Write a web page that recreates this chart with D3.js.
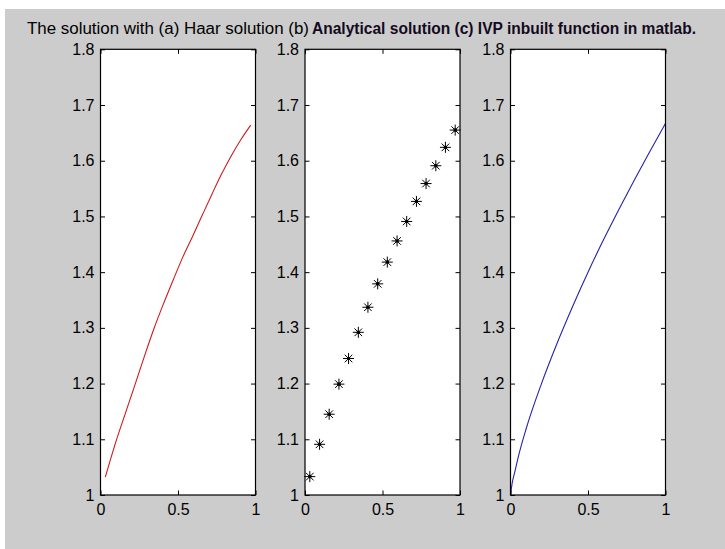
<!DOCTYPE html>
<html>
<head>
<meta charset="utf-8">
<script src="https://cdn.jsdelivr.net/npm/d3@7"></script>
<style>
  body { margin: 0; background: #ffffff; }
  svg text { font-family: "Liberation Sans", Arial, sans-serif; fill: #000; }
</style>
</head>
<body>
<svg class="chart"></svg>
<script>
// collocation points used for haar and analytical panels
var collX = [0.031, 0.094, 0.156, 0.219, 0.281, 0.344, 0.406, 0.469, 0.531, 0.594, 0.656, 0.719, 0.781, 0.844, 0.906, 0.969];
var haarY = [1.032, 1.091, 1.143, 1.195, 1.247, 1.298, 1.343, 1.386, 1.427, 1.464, 1.502, 1.540, 1.576, 1.609, 1.638, 1.664];
var exactY = [1.033, 1.091, 1.145, 1.199, 1.245, 1.292, 1.337, 1.379, 1.418, 1.456, 1.491, 1.527, 1.559, 1.591, 1.624, 1.655];
var ivpX = [0, 0.01, 0.029, 0.05, 0.1, 0.2, 0.3, 0.4, 0.5, 0.6, 0.7, 0.8, 0.9, 1.0];
var ivpY = [1.0, 1.02, 1.043, 1.068, 1.118, 1.200, 1.272, 1.338, 1.400, 1.458, 1.513, 1.566, 1.617, 1.667];
var yTicks = [1, 1.1, 1.2, 1.3, 1.4, 1.5, 1.6, 1.7, 1.8];
var xTicks = [0, 0.5, 1];
var titleA = "The solution with (a) Haar solution (b) ";
var titleB = "Analytical solution (c) IVP inbuilt function in matlab.";

var W = 725, H = 549;
var top_ = 49.3, bottom = 495;
var panelLeft = [100.5, 305, 510.5];
var panelW = 155;

var svg = d3.select(".chart").attr("width", W).attr("height", H);

svg.append("rect")
  .attr("x", 5).attr("y", 9)
  .attr("width", W - 5).attr("height", H - 9)
  .attr("fill", "#cccccc");

svg.append("text")
  .attr("x", 27).attr("y", 34)
  .attr("textLength", 282).attr("lengthAdjust", "spacingAndGlyphs")
  .style("font-size", "16px")
  .text(titleA);
svg.append("text")
  .attr("x", 312).attr("y", 34)
  .attr("textLength", 384).attr("lengthAdjust", "spacingAndGlyphs")
  .style("font-size", "16px").style("font-weight", "bold").style("fill", "#140a1e")
  .text(titleB);

var y = d3.scaleLinear().domain([1, 1.8]).range([bottom - top_, 0]);
var x = d3.scaleLinear().domain([0, 1]).range([0, panelW]);
var fmt = d3.format("~g");
var tk = 4.5;

var line = d3.line()
  .x(function(d) { return x(d[0]); })
  .y(function(d) { return y(d[1]); })
  .curve(d3.curveMonotoneX);

function makePanel(i) {
  var g = svg.append("g").attr("transform", "translate(" + panelLeft[i] + "," + top_ + ")");
  g.append("rect").attr("width", panelW).attr("height", bottom - top_).attr("fill", "#fff");
  return g;
}

function axes(g) {
  var h = bottom - top_;
  var stripDomain = function(a) { a.select(".domain").remove(); };
  g.append("g")
    .call(d3.axisLeft(y).tickValues(yTicks).tickFormat(fmt).tickSizeInner(-tk).tickSizeOuter(0).tickPadding(6))
    .call(stripDomain);
  g.append("g").attr("transform", "translate(" + panelW + ",0)")
    .call(d3.axisRight(y).tickValues(yTicks).tickFormat("").tickSizeInner(-tk).tickSizeOuter(0))
    .call(stripDomain);
  g.append("g").attr("transform", "translate(0," + h + ")")
    .call(d3.axisBottom(x).tickValues(xTicks).tickFormat(fmt).tickSizeInner(-tk).tickSizeOuter(0).tickPadding(9))
    .call(stripDomain);
  g.append("g")
    .call(d3.axisTop(x).tickValues(xTicks).tickFormat("").tickSizeInner(-tk).tickSizeOuter(0))
    .call(stripDomain);
  g.selectAll(".tick line").attr("stroke", "#000");
  g.selectAll(".tick text").style("font-size", "16px").attr("fill", "#000");
  g.append("rect")
    .attr("width", panelW).attr("height", h)
    .attr("fill", "none").attr("stroke", "#000").attr("stroke-width", 1.2);
}

// (a) haar
var p1 = makePanel(0);
p1.append("path")
  .datum(d3.zip(collX, haarY))
  .attr("fill", "none").attr("stroke", "#cc1c1c").attr("stroke-width", 1.1)
  .attr("d", line);
axes(p1);

// (b) analytical, star markers
var p2 = makePanel(1);
var star = "M-5.5,0L5.5,0M0,-5.5L0,5.5M-3.8,-3.8L3.8,3.8M-3.8,3.8L3.8,-3.8";
var pts = p2.selectAll("g.star").data(d3.zip(collX, exactY)).enter().append("g")
  .attr("class", "star")
  .attr("transform", function(d) { return "translate(" + x(d[0]) + "," + y(d[1]) + ")"; });
pts.append("path").attr("d", star).attr("stroke", "#000").attr("stroke-width", 1).attr("fill", "none");
pts.append("circle").attr("r", 1.8).attr("fill", "#000");
axes(p2);

// (c) ivp
var p3 = makePanel(2);
p3.append("path")
  .datum(d3.zip(ivpX, ivpY))
  .attr("fill", "none").attr("stroke", "#2424a8").attr("stroke-width", 1.1)
  .attr("d", line);
axes(p3);
</script>
</body>
</html>
